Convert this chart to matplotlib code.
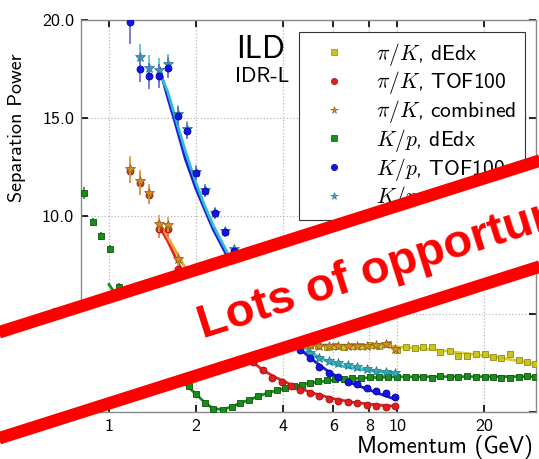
import numpy as np
import matplotlib
matplotlib.use('Agg')
import matplotlib.pyplot as plt
from matplotlib.lines import Line2D
from matplotlib.patches import Polygon
from matplotlib.ticker import FixedLocator, FixedFormatter, NullLocator, FormatStrFormatter

plt.rcParams['font.family'] = ['cmss10', 'DejaVu Sans']
plt.rcParams['mathtext.fontset'] = 'cm'
plt.rcParams['axes.unicode_minus'] = False

# momentum bins (GeV), dE/dx and TOF analyses
p_dedx = [0.82, 0.88, 0.94, 1.01, 1.08, 1.16, 1.24, 1.33, 1.43, 1.53, 1.64, 1.76, 1.89,
          2.01, 2.15, 2.30, 2.48, 2.67, 2.85, 3.07, 3.30, 3.55, 3.82, 4.08, 4.37, 4.67,
          4.99, 5.32, 5.70, 6.10, 6.55, 6.98, 7.50, 8.06, 8.62, 9.27, 9.97, 10.7, 11.5,
          12.3, 13.2, 14.1, 15.2, 16.3, 17.5, 18.7, 20.1, 21.5, 22.9, 24.6, 26.4, 28.2, 30.1]
p_tof = [1.18, 1.28, 1.38, 1.49, 1.60, 1.73, 1.86, 2.01, 2.16, 2.33, 2.52, 2.72, 2.93,
         3.16, 3.41, 3.68, 3.97, 4.28, 4.61, 4.98, 5.37, 5.79, 6.24, 6.74, 7.26, 7.84,
         8.45, 9.11, 9.83]

# separation power
kp_dedx = [11.15, 9.68, 8.97, 8.32, 6.38, 5.5, 4.8, 4.1, 3.5, 2.9, 2.4, 1.8, 1.3,
           0.92, 0.48, 0.15, 0.12, 0.27, 0.45, 0.62, 0.80, 0.98, 1.10, 1.20, 1.30, 1.40,
           1.50, 1.57, 1.62, 1.66, 1.68, 1.72, 1.74, 1.76, 1.76, 1.78, 1.80, 1.80, 1.80,
           1.77, 1.72, 1.85, 1.80, 1.80, 1.85, 1.80, 1.80, 1.77, 1.74, 1.74, 1.80, 1.83, 1.80]
kp_dedx_err = [0.3, 0.2, 0.2, 0.2, 0.2, 0.15, 0.15, 0.1, 0.1, 0.1, 0.1, 0.1, 0.1]
pik_dedx = [1.9, 2.1, 2.3, 2.5, 2.65, 2.8, 2.95, 3.05, 3.15, 3.25, 3.3, 3.35, 3.4,
            3.42, 3.38, 3.33, 3.36, 3.32, 3.38, 3.35, 3.4, 3.38, 3.45, 3.14, 3.33, 3.24,
            3.29, 3.29, 3.07, 3.12, 2.85, 2.85, 2.94, 2.94, 2.82, 2.74, 2.94, 2.65, 2.53, 2.43]
pik_tof = [12.3, 11.65, 11.05, 9.3, 9.3, 7.3, 6.6, 5.9, 5.2, 4.5, 3.9, 3.4, 2.95, 2.55,
           2.15, 1.72, 1.52, 1.31, 1.12, 0.95, 0.82, 0.68, 0.58, 0.52, 0.45, 0.38, 0.32,
           0.27, 0.32]
pik_tof_err = [0.65, 0.6, 0.45, 0.45, 0.4, 0.35, 0.3, 0.28, 0.25, 0.22, 0.2, 0.18, 0.16,
               0.14, 0.12, 0.1, 0.09, 0.08, 0.07, 0.06, 0.05, 0.05, 0.04, 0.04, 0.04,
               0.03, 0.03, 0.03, 0.03]
pik_comb = [12.4, 11.75, 11.15, 9.6, 9.55, 7.8, 6.9, 6.1, 5.4, 4.8, 4.3, 3.95, 3.7, 3.55,
            3.45, 3.4, 3.4, 3.42, 3.42, 3.4, 3.38, 3.35, 3.37, 3.36, 3.38, 3.36, 3.4,
            3.45, 3.2]
kp_tof = [19.85, 17.48, 17.12, 17.12, 17.54, 15.08, 14.33, 12.19, 11.28, 10.12, 9.15, 8.2,
          7.3, 6.4, 5.6, 4.8, 4.2, 3.65, 3.16, 2.74, 2.31, 2.0, 1.77, 1.54, 1.41, 1.21,
          1.07, 0.95, 0.78]
kp_tof_err = [1.1, 0.65, 0.66, 0.63, 0.54, 0.46, 0.42, 0.35, 0.3, 0.28, 0.25, 0.22, 0.2,
              0.18, 0.15, 0.13, 0.12, 0.1, 0.09, 0.08, 0.07, 0.06, 0.05, 0.05, 0.04,
              0.04, 0.04, 0.03, 0.03]
kp_comb = [18.1, 17.54, 17.42, 17.71, 15.17, 14.4, 12.25, 11.3, 10.15, 9.2, 8.3, 7.4,
           6.6, 5.8, 5.0, 4.35, 3.8, 3.35, 3.0, 2.75, 2.6, 2.48, 2.37, 2.28, 2.2, 2.08,
           2.03, 1.97]

# fitted curves
fit_pik_dedx_p = [4.3, 6.0, 8.0, 10.0, 13.0, 17.0, 22.0, 30.0]
fit_pik_dedx = [3.45, 3.42, 3.38, 3.32, 3.2, 3.0, 2.8, 2.45]
fit_kp_dedx_p = [1.0, 1.1, 1.2, 1.35, 1.5, 1.65, 1.86, 2.0, 2.15, 2.3, 2.48, 2.67, 2.85,
                 3.07, 3.3, 3.55, 3.82, 4.08, 4.5, 5.0, 6.0, 7.0, 8.0, 10.0, 15.0, 20.0, 30.0]
fit_kp_dedx = [6.5, 5.6, 4.7, 3.6, 2.7, 2.0, 1.35, 0.92, 0.48, 0.17, 0.13, 0.27, 0.45,
               0.62, 0.8, 0.97, 1.1, 1.2, 1.35, 1.48, 1.62, 1.7, 1.75, 1.79, 1.8, 1.8, 1.8]
fit_pik_tof_p = [1.49, 1.6, 1.75, 1.9, 2.1, 2.3, 2.6, 3.0, 3.4, 3.8, 4.3, 5.0, 6.0, 7.0,
                 8.0, 9.0, 9.83]
fit_pik_tof = [9.5, 8.7, 7.5, 6.5, 5.5, 4.7, 3.75, 2.85, 2.15, 1.75, 1.38, 1.0, 0.68,
               0.5, 0.4, 0.33, 0.3]
fit_pik_comb_p = [1.49, 1.6, 1.75, 1.9, 2.1, 2.3, 2.6, 3.0, 3.5, 4.0, 5.0, 6.0, 7.0,
                  8.0, 9.0, 9.83]
fit_pik_comb = [9.7, 8.9, 7.9, 7.0, 6.0, 5.2, 4.4, 3.8, 3.5, 3.42, 3.4, 3.38, 3.37,
                3.38, 3.36, 3.3]
fit_kp_p = [1.5, 1.6, 1.7, 1.84, 2.0, 2.15, 2.3, 2.6, 3.0, 3.5, 4.0, 4.6, 5.2, 5.85,
            6.6, 7.6, 8.6, 9.7]
fit_kp_tof = [17.5, 16.0, 14.7, 12.9, 11.4, 10.3, 9.3, 7.8, 6.2, 4.9, 4.0, 3.2, 2.55,
              2.0, 1.6, 1.25, 0.95, 0.68]
fit_kp_comb = [17.3, 16.3, 15.0, 13.3, 11.7, 10.5, 9.5, 8.0, 6.6, 5.3, 4.4, 3.45, 2.9,
               2.5, 2.3, 2.15, 2.05, 1.97]

labels = [r'$\pi/K$, dEdx', r'$\pi/K$, TOF100', r'$\pi/K$, combined',
          r'$K/p$, dEdx', r'$K/p$, TOF100', r'$K/p$, combined']
xticks = [1, 2, 4, 6, 8, 10, 20]
yticks = [0, 5, 10, 15, 20]

c_yel, e_yel = '#cbc41f', '#8f8912'
c_red, e_red = '#e01e1e', '#a01010'
c_org, e_org = '#d08c25', '#8a5a10'
c_grn, e_grn = '#1b8c1b', '#0b560b'
c_blu, e_blu = '#1414e6', '#0000a0'
c_tea, e_tea = '#35a8b8', '#1f7280'

fig = plt.figure(figsize=(5.39, 4.59), dpi=100)
ax = fig.add_axes([0.1503, 0.1024, 0.8442, 0.8551])

# fit lines
ax.plot(fit_kp_dedx_p, fit_kp_dedx, color=c_grn, lw=2, zorder=2)
ax.plot(fit_pik_dedx_p, fit_pik_dedx, color='#d6ce2c', lw=2, zorder=2)
ax.plot(fit_pik_tof_p, fit_pik_tof, color='#e42222', lw=2, zorder=2)
ax.plot(fit_pik_comb_p, fit_pik_comb, color='#f2a232', lw=2, zorder=2)
ax.plot(fit_kp_p, fit_kp_tof, color='#1c1cd8', lw=2, zorder=2)
ax.plot(fit_kp_p, fit_kp_comb, color='#2fbcd2', lw=2, zorder=2)

# data points
ax.errorbar(p_dedx, kp_dedx, yerr=kp_dedx_err + [0.05] * (len(kp_dedx) - len(kp_dedx_err)),
            fmt='s', ms=4.8, color=c_grn, mec=e_grn, mew=0.6, ecolor=c_grn,
            elinewidth=1.2, capsize=0, zorder=3)
ax.errorbar(p_dedx[13:], pik_dedx, fmt='s', ms=4.8, color=c_yel, mec=e_yel, mew=0.6,
            zorder=3)
ax.errorbar(p_tof[1:], kp_comb, yerr=kp_tof_err[1:], fmt='*', ms=7, color=c_tea,
            mec=e_tea, mew=0.5, ecolor='#4cc0cc', elinewidth=1.2, capsize=0, zorder=3)
ax.errorbar(p_tof, kp_tof, yerr=kp_tof_err, fmt='o', ms=5, color=c_blu, mec=e_blu,
            mew=0.6, ecolor='#6868c8', elinewidth=1.2, capsize=0, zorder=4)
ax.errorbar(p_tof, pik_tof, yerr=pik_tof_err, fmt='o', ms=5, color=c_red, mec=e_red,
            mew=0.6, ecolor='#e07050', elinewidth=1.2, capsize=0, zorder=4)
ax.errorbar(p_tof, pik_comb, yerr=pik_tof_err, fmt='*', ms=7, color=c_org, mec=e_org,
            mew=0.5, ecolor='#d8a050', elinewidth=1.2, capsize=0, zorder=5)

ax.set_xscale('log')
ax.set_xlim(0.8, 30.3)
ax.set_ylim(0, 20)
ax.xaxis.set_major_locator(FixedLocator(xticks))
ax.xaxis.set_major_formatter(FixedFormatter([str(t) for t in xticks]))
ax.xaxis.set_minor_locator(NullLocator())
ax.yaxis.set_major_locator(FixedLocator(yticks))
ax.yaxis.set_major_formatter(FormatStrFormatter('%.1f'))

ax.grid(True, ls=':', color='#b8b8b8', lw=0.9)
ax.set_axisbelow(True)
for s in ax.spines.values():
    s.set_color('#8a8a8a')
    s.set_linewidth(1.0)
ax.tick_params(direction='in', length=5, width=1.2, color='black', top=True, right=True,
               labelsize=13, pad=5)

ax.set_ylabel('Separation Power', fontsize=14.5)
ax.yaxis.set_label_coords(-0.121, 0.723)
ax.set_xlabel('Momentum (GeV)', fontsize=16.5, ha='right')
ax.xaxis.set_label_coords(0.993, -0.058)

ax.text(0.341, 0.901, 'ILD', transform=ax.transAxes, fontsize=23, ha='left', va='baseline')
ax.text(0.338, 0.8415, 'IDR-L', transform=ax.transAxes, fontsize=15.5, ha='left',
        va='baseline')

handles = [
    Line2D([], [], ls='none', marker='s', ms=4.5, color=c_yel, mec=e_yel, mew=0.5),
    Line2D([], [], ls='none', marker='o', ms=4.5, color=c_red, mec=e_red, mew=0.5),
    Line2D([], [], ls='none', marker='*', ms=5.5, color=c_org, mec=e_org, mew=0.4),
    Line2D([], [], ls='none', marker='s', ms=4.5, color=c_grn, mec=e_grn, mew=0.5),
    Line2D([], [], ls='none', marker='o', ms=4.5, color=c_blu, mec=e_blu, mew=0.5),
    Line2D([], [], ls='none', marker='*', ms=5.5, color=c_tea, mec=e_tea, mew=0.4),
]
leg = ax.legend(handles, labels, loc='upper right', bbox_to_anchor=(0.976, 0.968),
                borderaxespad=0, fancybox=False, framealpha=1, edgecolor='#333333',
                fontsize=15.5, handlelength=2.4, handletextpad=0.78, labelspacing=0.08,
                borderpad=0.4)
leg.get_frame().set_linewidth(0.8)
leg.set_zorder(6)

# "Lots of opportunity" banner across the figure
W, H = 539.0, 459.0
slope = np.tan(np.radians(17.62))
bx = np.array([-30.0, 580.0])
top_y = 332 - slope * bx
bot_y = 438 - slope * bx
band = Polygon([(bx[0] / W, 1 - top_y[0] / H), (bx[1] / W, 1 - top_y[1] / H),
                (bx[1] / W, 1 - bot_y[1] / H), (bx[0] / W, 1 - bot_y[0] / H)],
               closed=True, transform=fig.transFigure, facecolor='white',
               edgecolor='none', zorder=20)
fig.add_artist(band)
for yy in (top_y, bot_y):
    fig.add_artist(Line2D(bx / W, 1 - yy / H, transform=fig.transFigure, color='#ff0000',
                          lw=9, solid_capstyle='butt', zorder=21))
fig.text(203 / W, 1 - 338 / H, 'Lots of opportunity', rotation=17.62,
         rotation_mode='anchor', ha='left', va='baseline', color='#ff0000',
         fontsize=34, fontweight='bold', family='Liberation Sans', zorder=22)

fig.savefig('out.png', dpi=100)
